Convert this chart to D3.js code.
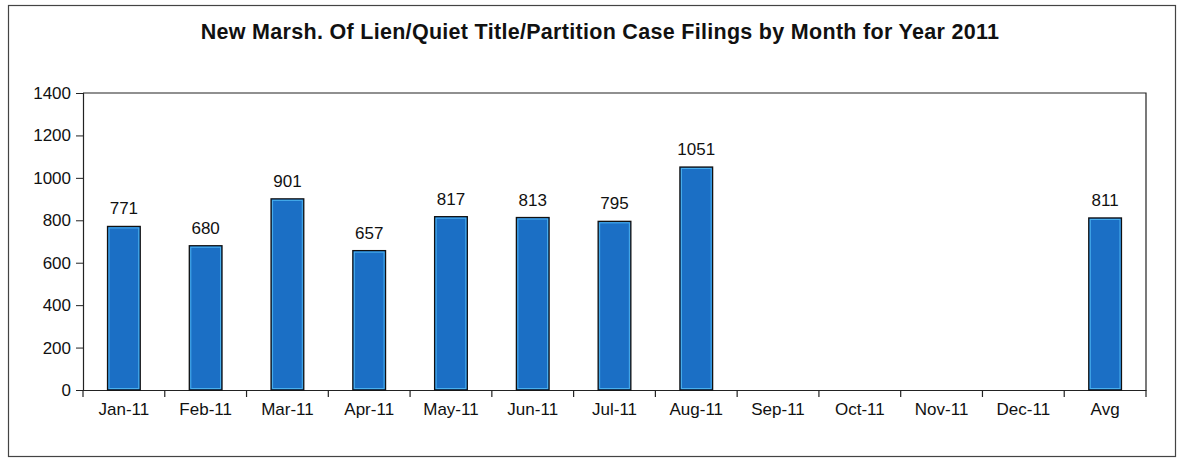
<!DOCTYPE html>
<html>
<head>
<meta charset="utf-8">
<script src="https://cdn.jsdelivr.net/npm/d3@7"></script>
<style>
  html, body { margin: 0; padding: 0; background: #fff; }
  svg { display: block; font-family: "Liberation Sans", Arial, sans-serif; }
</style>
</head>
<body>
<svg id="chart" width="1178" height="461"></svg>
<script>
// Monthly filings for 2011; months without data are left empty
const categories = ["Jan-11", "Feb-11", "Mar-11", "Apr-11", "May-11", "Jun-11",
                    "Jul-11", "Aug-11", "Sep-11", "Oct-11", "Nov-11", "Dec-11", "Avg"];
const filings = [771, 680, 901, 657, 817, 813, 795, 1051, null, null, null, null, 811];
const yTicks = [0, 200, 400, 600, 800, 1000, 1200, 1400];
const title = "New Marsh. Of Lien/Quiet Title/Partition Case Filings by Month for Year 2011";

const svg = d3.select("#chart");
const plot = { left: 83, top: 93, right: 1146, bottom: 390 };

// outer frame
svg.append("rect")
  .attr("x", 8.5).attr("y", 5.5)
  .attr("width", 1167).attr("height", 451)
  .attr("fill", "#fff").attr("stroke", "#444").attr("stroke-width", 1.2);

svg.append("text")
  .attr("x", 600).attr("y", 39)
  .attr("text-anchor", "middle")
  .attr("font-size", 21.5).attr("font-weight", "bold")
  .attr("letter-spacing", 0.3)
  .attr("fill", "#111")
  .text(title);

const x = d3.scaleBand().domain(categories)
  .range([plot.left, plot.right]).paddingInner(0.6).paddingOuter(0.3);
const xBand = d3.scaleBand().domain(categories).range([plot.left, plot.right]);
const y = d3.scaleLinear().domain([0, 1400]).range([plot.bottom, plot.top]);

// plot area box (top and right edges)
svg.append("path")
  .attr("d", `M${plot.left},${plot.top}H${plot.right}V${plot.bottom}`)
  .attr("fill", "none").attr("stroke", "#222").attr("stroke-width", 1.2);

// y axis
const yAxis = svg.append("g")
  .attr("transform", `translate(${plot.left},0)`)
  .call(d3.axisLeft(y).tickValues(yTicks).tickSize(7).tickPadding(5).tickFormat(d3.format("d")));
yAxis.select(".domain").attr("stroke", "#222").attr("stroke-width", 1.2);
yAxis.selectAll(".tick line").attr("stroke", "#222");
yAxis.selectAll(".tick text").attr("font-size", 17).attr("fill", "#111")
  .attr("font-family", "Liberation Sans, Arial, sans-serif");

// x axis: ticks at category boundaries
const xAxis = svg.append("g")
  .attr("transform", `translate(0,${plot.bottom})`)
  .call(d3.axisBottom(xBand).tickSize(0).tickPadding(13));
xAxis.select(".domain").attr("stroke", "#222").attr("stroke-width", 1.2);
xAxis.selectAll(".tick text").attr("font-size", 17).attr("fill", "#111")
  .attr("font-family", "Liberation Sans, Arial, sans-serif");
const bounds = categories.map(c => xBand(c)).concat([plot.right]);
xAxis.selectAll("line.bound").data(bounds).enter().append("line")
  .attr("class", "bound")
  .attr("x1", d => d).attr("x2", d => d)
  .attr("y1", 0).attr("y2", 7)
  .attr("stroke", "#222").attr("stroke-width", 1.2);

// bars
const data = categories.map((c, i) => ({ c, v: filings[i] })).filter(d => d.v != null);
const bars = svg.append("g");
bars.selectAll("rect.bar").data(data).enter().append("rect")
  .attr("class", "bar")
  .attr("x", d => x(d.c)).attr("y", d => y(d.v))
  .attr("width", x.bandwidth()).attr("height", d => y(0) - y(d.v))
  .attr("fill", "#1b6fc5").attr("stroke", "#111").attr("stroke-width", 1.3);
bars.selectAll("rect.hi").data(data).enter().append("rect")
  .attr("class", "hi")
  .attr("x", d => x(d.c) + 1.5).attr("y", d => y(d.v) + 1.5)
  .attr("width", x.bandwidth() - 3).attr("height", d => y(0) - y(d.v) - 3)
  .attr("fill", "none").attr("stroke", "#49b0ee").attr("stroke-width", 1);

// value labels
bars.selectAll("text").data(data).enter().append("text")
  .attr("x", d => x(d.c) + x.bandwidth() / 2)
  .attr("y", d => y(d.v) - 12)
  .attr("text-anchor", "middle")
  .attr("font-size", 17).attr("fill", "#111")
  .text(d => d.v);
</script>
</body>
</html>
